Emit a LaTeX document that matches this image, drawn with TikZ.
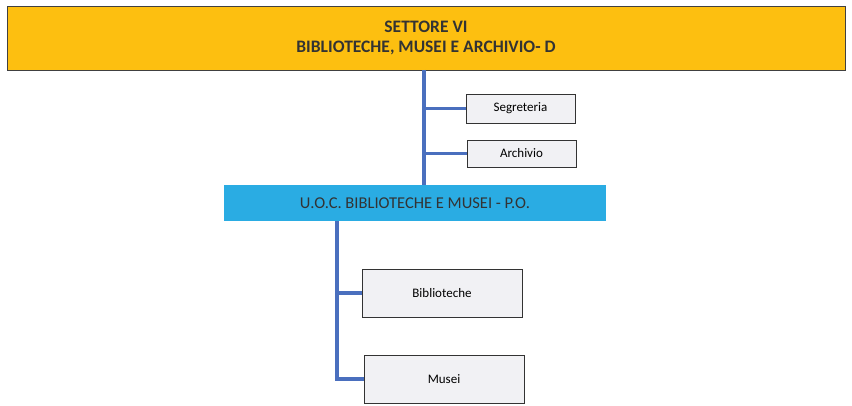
\documentclass[tikz,border=0pt]{standalone}
\usepackage{fontspec}
\setmainfont{Carlito}
\definecolor{settore}{HTML}{FDBF10}
\definecolor{uoc}{HTML}{2AACE3}
\definecolor{linea}{HTML}{4A6FBE}
\definecolor{ufficio}{HTML}{F1F1F4}
\tikzset{
  ufficiobox/.style={draw=black!80, fill=ufficio, line width=0.9pt, inner sep=0pt},
  ramo/.style={draw=linea, line width=3.5pt}
}
\begin{document}
\begin{tikzpicture}[x=1pt,y=-1pt]

    % Page frame
    \useasboundingbox (0,0) rectangle (852,406);

    % Sector box
    \node[draw=black!75, fill=settore, line width=0.9pt,
      minimum width=838pt, minimum height=64pt, inner sep=0pt,
      align=center, font=\fontsize{17.5}{20}\selectfont\bfseries\color{black!80}]
      (settore) at (426,38) {SETTORE VI\\BIBLIOTECHE, MUSEI E ARCHIVIO- D};

    % Unit box
    \node[fill=uoc, minimum width=382pt, minimum height=36pt, inner sep=0pt,
      font=\fontsize{16.5}{18}\selectfont\color{black!80}]
      (uoc) at (415,203) {U.O.C. BIBLIOTECHE E MUSEI - P.O.};

    % Offices
    \node[ufficiobox, minimum width=109pt, minimum height=29pt,
      font=\fontsize{13}{15}\selectfont] (segreteria) at (520.5,108.5) {Segreteria};
    \node[ufficiobox, minimum width=109pt, minimum height=27pt,
      font=\fontsize{13}{15}\selectfont] (archivio) at (521.5,153.5) {Archivio};
    \node[ufficiobox, minimum width=160pt, minimum height=48pt,
      font=\fontsize{13}{15}\selectfont] (biblioteche) at (442,293) {Biblioteche};
    \node[ufficiobox, minimum width=160pt, minimum height=48pt,
      font=\fontsize{13}{15}\selectfont] (musei) at (444,379) {Musei};

    % Branch points
    \coordinate (s0) at (424,70);
    \coordinate (u0) at (337,221);

    % Connectors
    \draw[ramo] (s0) -- (s0 |- uoc.north);
    \draw[ramo] (s0 |- segreteria.west) -- (segreteria.west);
    \draw[ramo] (s0 |- archivio.west) -- (archivio.west);
    \draw[ramo] (u0) -- (u0 |- musei.west) -- (musei.west);
    \draw[ramo] (u0 |- biblioteche.west) -- (biblioteche.west);

  \end{tikzpicture}
\end{document}
